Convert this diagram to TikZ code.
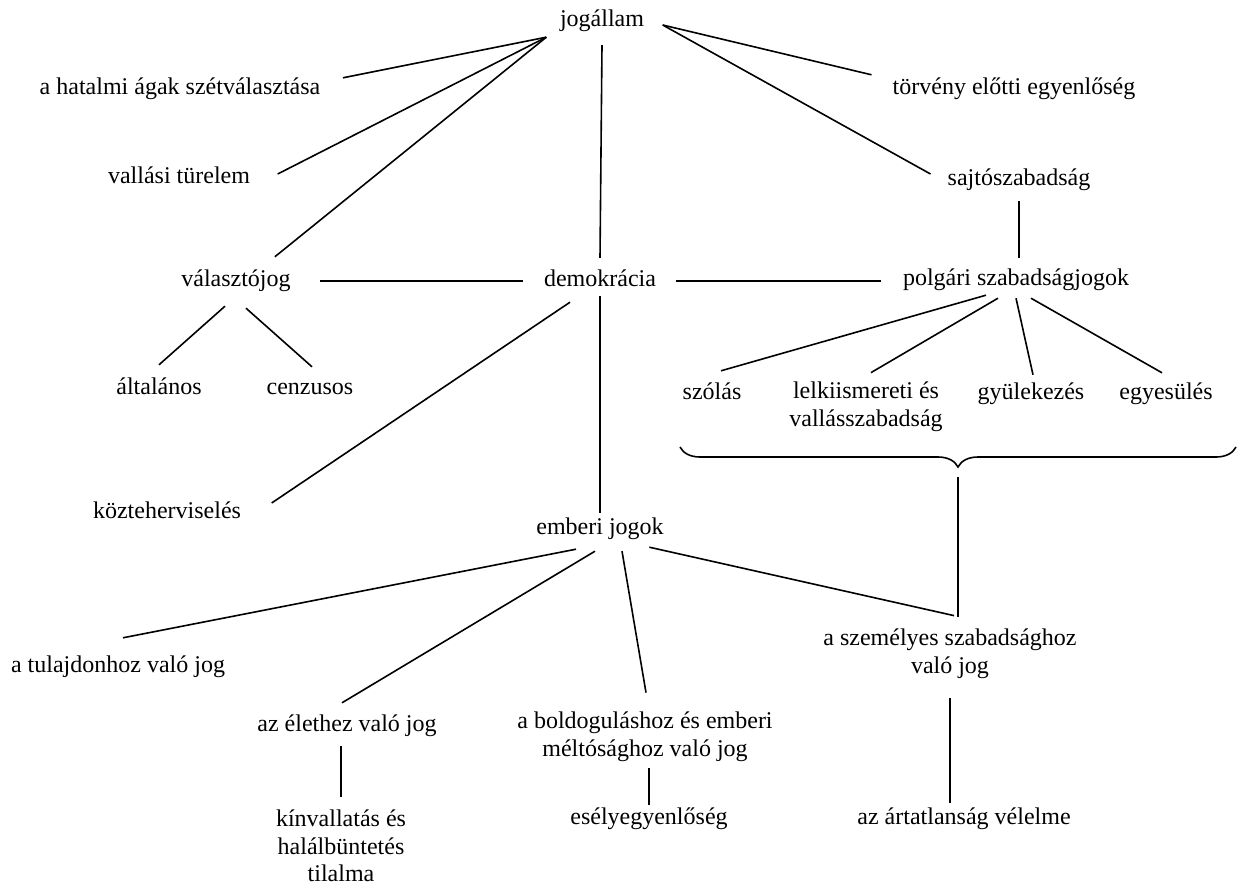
\documentclass[tikz,border=0pt]{standalone}
\usepackage{fontspec}
\setmainfont{Liberation Serif}
\usepackage{tikz}
\usetikzlibrary{decorations.pathreplacing}
\tikzset{
  lbl/.style={font=\fontsize{24}{27.5}\selectfont, inner sep=4pt, align=center},
  one/.style={font=\fontsize{24}{27.5}\selectfont, inner sep=4pt, text height=17pt, text depth=5pt},
  link/.style={line width=1.6pt}
}
\begin{document}
\begin{tikzpicture}[x=1pt,y=-1pt]
\useasboundingbox (0,0) rectangle (1237,885);
\node[one] (jog) at (602,21) {jogállam};
\node[one] (hatalmi) at (180,89) {a hatalmi ágak szétválasztása};
\node[one] (vallasi) at (179,178) {vallási türelem};
\node[one] (valaszto) at (236,281) {választójog};
\node[one] (demo) at (600,281) {demokrácia};
\node[one] (torveny) at (1014,89) {törvény előtti egyenlőség};
\node[one] (sajto) at (1019,180) {sajtószabadság};
\node[one] (polgari) at (1016,280) {polgári szabadságjogok};
\node[one] (altalanos) at (159,388) {általános};
\node[one] (cenzus) at (310,388) {cenzusos};
\node[one] (kozteher) at (167,512) {közteherviselés};
\node[one] (szolas) at (712,393) {szólás};
\node[lbl] (lelki) at (866,406.5) {lelkiismereti és\\vallásszabadság};
\node[one] (gyules) at (1031,393) {gyülekezés};
\node[one] (egyesules) at (1166,393) {egyesülés};
\node[one] (emberi) at (600,528) {emberi jogok};
\node[one] (tulajdon) at (118,666) {a tulajdonhoz való jog};
\node[lbl] (szemelyes) at (950,653.5) {a személyes szabadsághoz\\való jog};
\node[one] (elet) at (347,725) {az élethez való jog};
\node[lbl] (boldog) at (645,736.5) {a boldoguláshoz és emberi\\méltósághoz való jog};
\node[lbl] (kinvallat) at (341,846) {kínvallatás és\\halálbüntetés\\tilalma};
\node[one] (esely) at (649,818) {esélyegyenlőség};
\node[one] (artatlan) at (964,818) {az ártatlanság vélelme};
\coordinate (br1) at (680,447);
\coordinate (br2) at (1236,447);
\coordinate (brtip) at (958,467);

\draw[link] ([xshift=-9.5pt,yshift=-1pt]jog.south west) -- ([xshift=18.5pt,yshift=-4pt]hatalmi.north east);
\draw[link] ([xshift=-9.5pt,yshift=-1pt]jog.south west) -- ([xshift=23.5pt,yshift=4pt]vallasi.east);
\draw[link] ([xshift=-9.5pt,yshift=-1pt]jog.south west) -- ([xshift=-20pt,yshift=9pt]valaszto.north east);
\draw[link] ([yshift=-9pt]jog.south) -- ([yshift=8pt]demo.north);
\draw[link] ([xshift=14.5pt,yshift=-4pt]jog.east) -- ([xshift=-17pt,yshift=-1pt]torveny.north west);
\draw[link] ([xshift=14.5pt,yshift=-4pt]jog.east) -- ([xshift=-13pt,yshift=6pt]sajto.west);
\draw[link] ([yshift=-6pt]sajto.south) -- ([yshift=7pt]sajto.south |- polgari.north);
\draw[link] ([xshift=25pt]valaszto.east) -- ([xshift=-16.5pt]demo.west);
\draw[link] ([xshift=15.5pt]demo.east) -- ([xshift=-17.5pt]demo.east -| polgari.west);
\draw[link] ([xshift=-11pt,yshift=-10pt]valaszto.south) -- ([yshift=8pt]altalanos.north);
\draw[link] ([xshift=10pt,yshift=-12pt]valaszto.south) -- ([xshift=2pt,yshift=6pt]cenzus.north);
\draw[link] ([xshift=-30pt,yshift=-6pt]demo.south) -- ([xshift=26.5pt,yshift=9pt]kozteher.east);
\draw[link] (demo.south) -- (emberi.north);
\draw[link] ([xshift=-30pt]polgari.south) -- ([xshift=9pt,yshift=7pt]szolas.north);
\draw[link] ([xshift=-18pt,yshift=-3pt]polgari.south) -- ([xshift=5pt,yshift=5pt]lelki.north);
\draw[link] ([yshift=-3pt]polgari.south) -- ([xshift=2pt,yshift=3pt]gyules.north);
\draw[link] ([xshift=15pt,yshift=-3pt]polgari.south) -- ([xshift=-4pt,yshift=5pt]egyesules.north);
\draw[link,decorate,decoration={brace,amplitude=20pt}] (br2) -- (br1);
\draw[link] ([yshift=-10pt]brtip) -- ([yshift=8pt]brtip |- szemelyes.north);
\draw[link] ([xshift=-24pt,yshift=-6pt]emberi.south) -- ([xshift=5pt,yshift=13pt]tulajdon.north);
\draw[link] ([xshift=-5pt,yshift=-8pt]emberi.south) -- ([xshift=-5pt,yshift=7pt]elet.north);
\draw[link] ([xshift=22pt,yshift=-8pt]emberi.south) -- ([xshift=1pt,yshift=15pt]boldog.north);
\draw[link] ([xshift=-18.5pt,yshift=-4pt]emberi.south east) -- ([xshift=4pt,yshift=9pt]szemelyes.north);
\draw[link] ([yshift=-6pt]kinvallat.north |- elet.south) -- ([yshift=9pt]kinvallat.north);
\draw[link] ([yshift=-3pt]esely.north |- boldog.south) -- ([yshift=-2pt]esely.north);
\draw[link] ([yshift=-16pt]szemelyes.south) -- (szemelyes.south |- artatlan.north);
\end{tikzpicture}
\end{document}
